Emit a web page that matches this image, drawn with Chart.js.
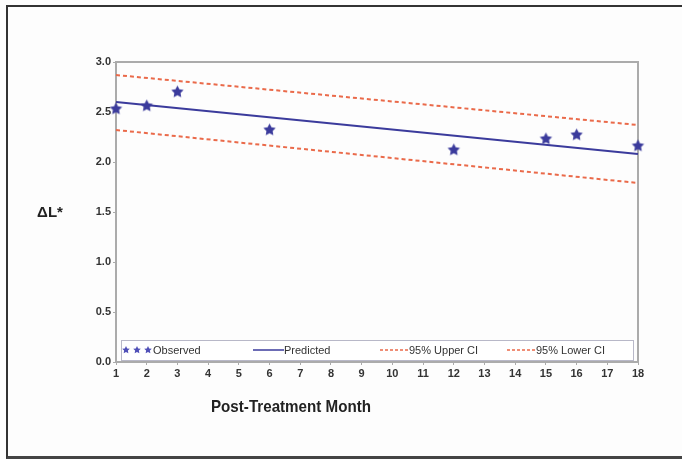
<!DOCTYPE html>
<html>
<head>
<meta charset="utf-8">
<script src="https://cdn.jsdelivr.net/npm/chart.js@4.4.1/dist/chart.umd.min.js"></script>
<style>
  html, body { margin: 0; padding: 0; background: #ffffff; }
  #wrap { position: relative; width: 682px; height: 459px; overflow: hidden; background: #fdfdfd; }
  #frame { position: absolute; left: 6px; top: 5px; width: 700px; height: 449px;
           border-left: 2px solid #333; border-top: 2px solid #333; border-bottom: 3px solid #444;
           box-shadow: 1px 1px 1px #999; }
  canvas { position: absolute; left: 0; top: 0; }
</style>
</head>
<body>
<div id="wrap">
  <div id="frame"></div>
  <canvas id="c" width="682" height="459"></canvas>
</div>
<script>
// ---- data ----
const months      = [1, 2, 3, 6, 12, 15, 16, 18];
const observed    = [2.53, 2.56, 2.70, 2.32, 2.12, 2.23, 2.27, 2.16];
const fitMonths   = [1, 18];
const predicted   = [2.60, 2.08];
const upperCI     = [2.87, 2.37];
const lowerCI     = [2.32, 1.79];
const xTicks      = [1,2,3,4,5,6,7,8,9,10,11,12,13,14,15,16,17,18];
const yTicks      = [0.0, 0.5, 1.0, 1.5, 2.0, 2.5, 3.0];
const legendLabels = ['Observed', 'Predicted', '95% Upper CI', '95% Lower CI'];
const xTitle = 'Post-Treatment Month';
const yTitle = '\u0394L*';

const BLUE = '#3b3b9c';
const RED = '#ea6a4a';
const TICKFONT = '"Liberation Sans Narrow", "Liberation Sans", Arial, sans-serif';

function starCanvas(r, color) {
  const s = Math.ceil(r * 2 + 2);
  const c = document.createElement('canvas');
  c.width = s; c.height = s;
  const g = c.getContext('2d');
  g.fillStyle = color;
  g.beginPath();
  for (let i = 0; i < 10; i++) {
    const rr = i % 2 === 0 ? r : r * 0.5;
    const a = -Math.PI / 2 + i * Math.PI / 5;
    const x = s / 2 + rr * Math.cos(a), y = s / 2 + rr * Math.sin(a);
    if (i === 0) g.moveTo(x, y); else g.lineTo(x, y);
  }
  g.closePath(); g.fill();
  return c;
}
const bigStar = starCanvas(6.5, BLUE);
const smallStar = starCanvas(4, '#5050b8');

const pts = (xs, ys) => xs.map((x, i) => ({ x: x, y: ys[i] }));

const decor = {
  id: 'decor',
  beforeDatasetsDraw(chart) {
    const { ctx, chartArea: a } = chart;
    ctx.save();
    ctx.strokeStyle = '#ababab';
    ctx.lineWidth = 2;
    ctx.strokeRect(a.left, a.top, a.right - a.left, a.bottom - a.top);
    // legend box
    const lx = a.left + 5, ly = a.bottom - 22, lw = a.right - a.left - 10, lh = 20;
    ctx.fillStyle = '#ffffff';
    ctx.fillRect(lx, ly, lw, lh);
    ctx.strokeStyle = '#b8b8c8';
    ctx.lineWidth = 1;
    ctx.strokeRect(lx + 0.5, ly + 0.5, lw, lh);
    const cy = ly + lh / 2 + 1;
    ctx.font = '11px ' + TICKFONT;
    ctx.fillStyle = '#333';
    ctx.textBaseline = 'middle';
    ctx.textAlign = 'left';
    // Observed
    [126, 137, 148].forEach(x => ctx.drawImage(smallStar, x - smallStar.width / 2, cy - smallStar.height / 2 - 1));
    ctx.fillText(legendLabels[0], 153, cy);
    // Predicted
    ctx.strokeStyle = BLUE; ctx.lineWidth = 1.5;
    ctx.beginPath(); ctx.moveTo(253, cy - 1); ctx.lineTo(284, cy - 1); ctx.stroke();
    ctx.fillText(legendLabels[1], 284, cy);
    // CIs
    ctx.strokeStyle = RED; ctx.lineWidth = 1.5; ctx.setLineDash([3, 2]);
    ctx.beginPath(); ctx.moveTo(380, cy - 1); ctx.lineTo(408, cy - 1); ctx.stroke();
    ctx.beginPath(); ctx.moveTo(507, cy - 1); ctx.lineTo(535, cy - 1); ctx.stroke();
    ctx.setLineDash([]);
    ctx.fillText(legendLabels[2], 409, cy);
    ctx.fillText(legendLabels[3], 536, cy);
    ctx.restore();
  },
  afterDraw(chart) {
    const { ctx } = chart;
    ctx.save();
    ctx.fillStyle = '#222';
    ctx.textBaseline = 'middle';
    ctx.textAlign = 'center';
    ctx.font = 'bold 17px "Liberation Sans", Arial, sans-serif';
    const w = ctx.measureText(xTitle).width;
    ctx.translate(291, 407);
    ctx.scale(160 / w, 1);
    ctx.fillText(xTitle, 0, 0);
    ctx.restore();
    ctx.save();
    ctx.fillStyle = '#222';
    ctx.textBaseline = 'middle';
    ctx.textAlign = 'center';
    ctx.font = 'bold 15px "Liberation Sans", Arial, sans-serif';
    ctx.fillText(yTitle, 50, 213);
    ctx.restore();
  }
};

new Chart(document.getElementById('c'), {
  type: 'scatter',
  data: {
    datasets: [
      { label: legendLabels[0], data: pts(months, observed), pointStyle: bigStar,
        showLine: false, clip: false, order: 0 },
      { label: legendLabels[1], data: pts(fitMonths, predicted), showLine: true,
        borderColor: BLUE, borderWidth: 2, pointRadius: 0, clip: false, order: 1 },
      { label: legendLabels[2], data: pts(fitMonths, upperCI), showLine: true,
        borderColor: RED, borderWidth: 2, borderDash: [4, 3], pointRadius: 0, clip: false, order: 2 },
      { label: legendLabels[3], data: pts(fitMonths, lowerCI), showLine: true,
        borderColor: RED, borderWidth: 2, borderDash: [4, 3], pointRadius: 0, clip: false, order: 3 }
    ]
  },
  options: {
    responsive: false,
    animation: false,
    events: [],
    layout: { padding: { left: 86, right: 44, top: 62, bottom: 77 } },
    plugins: { legend: { display: false }, tooltip: { enabled: false } },
    scales: {
      x: {
        type: 'linear', min: 1, max: 18,
        afterBuildTicks: s => { s.ticks = xTicks.map(v => ({ value: v })); },
        afterFit: s => { s.height = 20; },
        grid: { drawOnChartArea: false, tickLength: 3, color: '#aaa' },
        border: { color: '#ababab', width: 2 },
        ticks: { padding: 2, color: '#333', maxRotation: 0, autoSkip: false,
                 font: { family: TICKFONT, size: 11, weight: 'bold' } }
      },
      y: {
        min: 0, max: 3,
        afterBuildTicks: s => { s.ticks = yTicks.map(v => ({ value: v })); },
        afterFit: s => { s.width = 30; },
        grid: { drawOnChartArea: false, tickLength: 3, color: '#aaa' },
        border: { color: '#ababab', width: 2 },
        ticks: { padding: 2, color: '#333', callback: v => v.toFixed(1),
                 font: { family: TICKFONT, size: 11, weight: 'bold' } }
      }
    }
  },
  plugins: [decor]
});
</script>
</body>
</html>
